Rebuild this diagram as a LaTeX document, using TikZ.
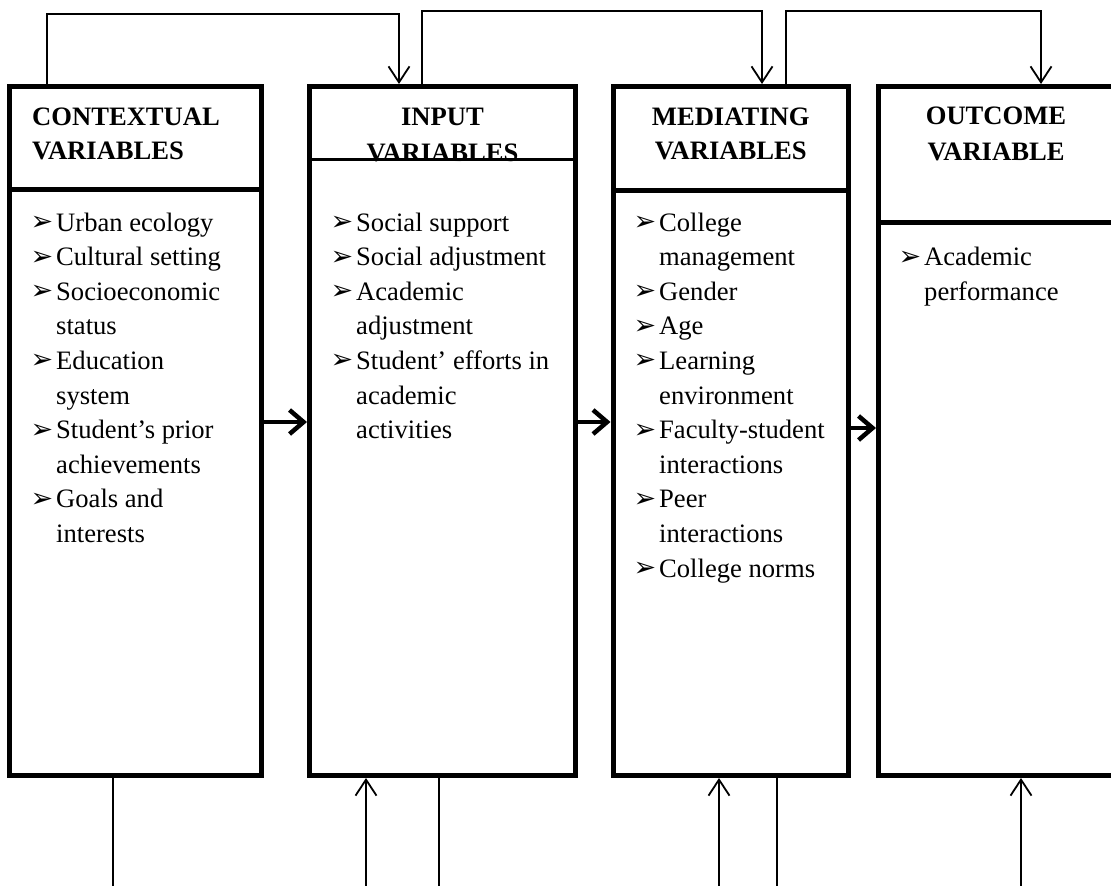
\documentclass[tikz,border=0pt]{standalone}
\usepackage{fontspec}
\setmainfont{Liberation Serif}
\newfontfamily\bulfont{DejaVu Sans}
\usetikzlibrary{arrows.meta}
\newcommand\bul{\makebox[23pt][l]{\hspace*{-2.5pt}\raisebox{0.5pt}{\bulfont\fontsize{27pt}{27pt}\selectfont ➢}}}
\newcommand\listbox[4]{%
  \foreach \kk/\txt [count=\i from #3] in {#4} {
    \node[item] (#1\i) at ({#2+23*(1-\kk)},{231+34.6*(\i-1)}) {\ifnum\kk=1 \bul\fi\txt};
  }}
\begin{document}
\begin{tikzpicture}[x=1pt,y=-1pt,
  box/.style={draw, rectangle, line width=5pt, inner sep=0pt},
  sepline/.style={line width=5pt},
  head/.style={inner sep=0pt, font=\bfseries\fontsize{26.6pt}{34pt}\selectfont},
  item/.style={anchor=base west, inner sep=0pt, font=\fontsize{26.6pt}{34.6pt}\selectfont},
  conn/.style={line width=1.8pt},
  thin tip/.style={-{Straight Barb[length=16pt,width=21pt]}},
  flow/.style={line width=4.5pt, -{Straight Barb[length=14pt,width=24pt]}}]
\useasboundingbox (0,0) rectangle (1111,886);
\fill[white] (0,0) rectangle (1111,886);
% boxes
\node[box, minimum width=252pt, minimum height=689pt] (b1) at (135.5,431) {};
\node[box, minimum width=266pt, minimum height=689pt] (b2) at (442.5,431) {};
\node[box, minimum width=235.5pt, minimum height=689pt] (b3) at (730.75,431) {};
\node[box, minimum width=235pt, minimum height=689pt] (b4) at (996,431) {};
% headers
\node[head, anchor=base west] (h1a) at (32,125) {CONTEXTUAL};
\node[head, anchor=base west] (h1b) at (32,159) {VARIABLES};
\node[head, anchor=base] (h2a) at (442.5,125) {INPUT};
\node[head, anchor=base] (h2b) at (442.5,161) {VARIABLES};
\node[head, anchor=base] (h3a) at (730.75,125) {MEDIATING};
\node[head, anchor=base] (h3b) at (730.75,159) {VARIABLES};
\node[head, anchor=base] (h4a) at (996,124) {OUTCOME};
\node[head, anchor=base] (h4b) at (996,160) {VARIABLE};
% separators
\draw[sepline] (12,189.5) -- (259,189.5);
\draw[line width=3pt] (312,159) -- (573,159);
\draw[sepline] (616,190) -- (846,190);
\draw[sepline] (881,222.5) -- (1111,222.5);
% lists
\listbox{p}{33}{1}{1/Urban ecology,1/Cultural setting,1/Socioeconomic,0/status,1/Education,0/system,1/Student’s prior,0/achievements,1/Goals and,0/interests}
\listbox{q}{333}{1}{1/Social support,1/Social adjustment,1/Academic,0/adjustment,1/Student’ efforts in,0/academic,0/activities}
\listbox{r}{636}{1}{1/College,0/management,1/Gender,1/Age,1/Learning,0/environment,1/Faculty-student,0/interactions,1/Peer,0/interactions,1/College norms}
\listbox{s}{901}{2}{1/Academic,0/performance}
% top connectors
\coordinate (t1a) at (47,14);
\coordinate (t1b) at (399,14);
\coordinate (t2a) at (422,11);
\coordinate (t2b) at (762,11);
\coordinate (t3a) at (786,11);
\coordinate (t3b) at (1041,11);
\draw[conn, thin tip] (b1.north -| t1a) -- (t1a) -- (t1b) -- (b2.north -| t1b);
\draw[conn, thin tip] (b2.north -| t2a) -- (t2a) -- (t2b) -- (b3.north -| t2b);
\draw[conn, thin tip] (b3.north -| t3a) -- (t3a) -- (t3b) -- (b4.north -| t3b);
% flow arrows
\coordinate (f1) at (0,422);
\coordinate (f2) at (0,422);
\coordinate (f3) at (0,428);
\draw[flow] (b1.east |- f1) -- (b2.west |- f1);
\draw[flow] (b2.east |- f2) -- (b3.west |- f2);
\draw[flow] (b3.east |- f3) -- (b4.west |- f3);
% bottom connectors
\coordinate (u1) at (113,886);
\coordinate (u2) at (366,886);
\coordinate (u3) at (439,886);
\coordinate (u4) at (719,886);
\coordinate (u5) at (777,886);
\coordinate (u6) at (1021,886);
\draw[conn] (b1.south -| u1) -- (u1);
\draw[conn, thin tip] (u2) -- (b2.south -| u2);
\draw[conn] (b2.south -| u3) -- (u3);
\draw[conn, thin tip] (u4) -- (b3.south -| u4);
\draw[conn] (b3.south -| u5) -- (u5);
\draw[conn, thin tip] (u6) -- (b4.south -| u6);
\end{tikzpicture}
\end{document}
